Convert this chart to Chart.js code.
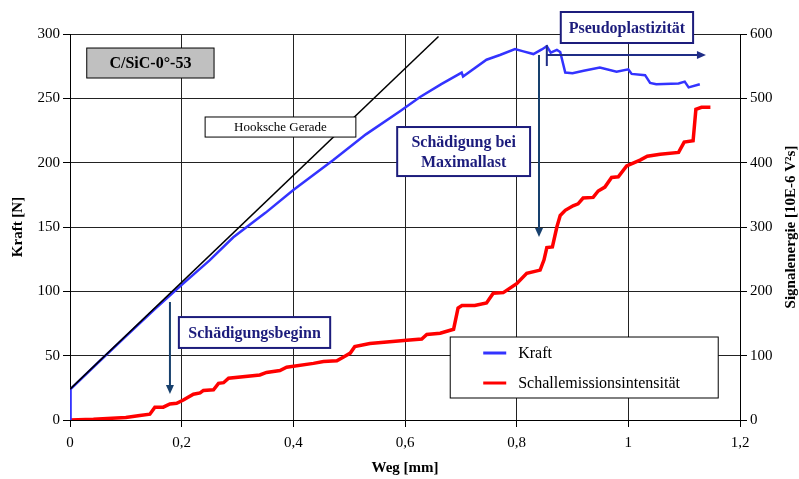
<!DOCTYPE html>
<html>
<head>
<meta charset="utf-8">
<script src="https://cdn.jsdelivr.net/npm/chart.js@4.4.1/dist/chart.umd.min.js"></script>
<style>
    body { margin: 0; background: #fff; }
    #wrap { width: 799px; height: 479px; }
</style>
</head>
<body>
<div id="wrap"><canvas id="kraft_chart" width="799" height="479"></canvas></div>
<script>
// Kraft-Weg curve (left axis, N)
const wegKraft = [0, 0.001, 0.05, 0.1, 0.15, 0.2, 0.25, 0.2925, 0.35, 0.40, 0.4716, 0.53, 0.591, 0.627, 0.665,
    0.7015, 0.704, 0.746, 0.770, 0.797, 0.812, 0.83, 0.845, 0.854, 0.861, 0.872, 0.878, 0.887, 0.9, 0.92,
    0.949, 0.979, 1.0, 1.006, 1.03, 1.039, 1.05, 1.09, 1.101, 1.108, 1.128];
const kraft = [0, 24, 44.5, 65, 85.5, 105, 124, 142, 161, 178.7, 202, 222, 240, 251, 261,
    270, 267, 280, 283.7, 288.3, 286.5, 284.4, 288, 290.5, 285.5, 287.6, 286, 270, 269.5, 271.5,
    274, 270.7, 272.5, 269, 268, 262, 261, 261.5, 263, 258.5, 261];

// Schallemissionsintensität (right axis, 10E-6 V²s)
const wegSchall = [0, 0.042, 0.10, 0.125, 0.143, 0.152, 0.167, 0.179, 0.191, 0.203, 0.221, 0.233, 0.239, 0.257,
    0.266, 0.275, 0.284, 0.34, 0.352, 0.376, 0.388, 0.436, 0.454, 0.478, 0.49, 0.502, 0.51, 0.537, 0.603,
    0.63, 0.639, 0.663, 0.687, 0.695, 0.702, 0.725, 0.746, 0.758, 0.776, 0.80, 0.818, 0.842, 0.849, 0.854,
    0.864, 0.872, 0.878, 0.887, 0.901, 0.91, 0.919, 0.937, 0.946, 0.958, 0.970, 0.982, 0.997, 1.021, 1.034,
    1.057, 1.09, 1.10, 1.116, 1.121, 1.131, 1.147];
const schall = [0, 1, 4, 7, 9, 20, 20, 25, 26, 31, 40, 42, 46, 47,
    57, 58, 65, 70, 74, 77, 82, 88, 91, 92, 98, 104, 114, 119, 124,
    126, 133, 135, 141, 174, 178, 178, 182, 197, 198, 212, 228, 233, 249, 268,
    269, 300, 318, 326, 333, 336, 345, 346, 356, 362, 377, 378, 395, 404, 410,
    413, 416, 432, 434, 483, 486, 486];

// Hookesche Gerade (two end points)
const wegHooke = [0, 0.66];
const hooke = [24, 298];

const xTicks = { min: 0, max: 1.2, step: 0.2 };
const yTicks = { min: 0, max: 300, step: 50 };
const y2Ticks = { min: 0, max: 600, step: 100 };

const serif = "'Liberation Serif', 'DejaVu Serif', serif";
const navy = "#1c1c7c";

function toPoints(xs, ys) {
    return xs.map((x, i) => ({ x: x, y: ys[i] }));
}

function commaLabel(v) {
    return String(Math.round(v * 10) / 10).replace(".", ",");
}

function drawBox(ctx, x1, y1, x2, y2, fill, stroke, lw) {
    ctx.save();
    ctx.fillStyle = fill;
    ctx.fillRect(x1, y1, x2 - x1, y2 - y1);
    ctx.strokeStyle = stroke;
    ctx.lineWidth = lw;
    ctx.strokeRect(x1, y1, x2 - x1, y2 - y1);
    ctx.restore();
}

function drawText(ctx, lines, cx, cy, font, color) {
    ctx.save();
    ctx.font = font;
    ctx.fillStyle = color;
    ctx.textAlign = "center";
    ctx.textBaseline = "middle";
    const lh = 20;
    lines.forEach((t, i) => {
        ctx.fillText(t, cx, cy + (i - (lines.length - 1) / 2) * lh);
    });
    ctx.restore();
}

function drawArrow(ctx, x1, y1, x2, y2, color) {
    const ang = Math.atan2(y2 - y1, x2 - x1);
    ctx.save();
    ctx.strokeStyle = color;
    ctx.fillStyle = color;
    ctx.lineWidth = 2;
    ctx.beginPath();
    ctx.moveTo(x1, y1);
    ctx.lineTo(x2 - 6 * Math.cos(ang), y2 - 6 * Math.sin(ang));
    ctx.stroke();
    ctx.beginPath();
    ctx.moveTo(x2, y2);
    ctx.lineTo(x2 - 9 * Math.cos(ang) + 4 * Math.sin(ang), y2 - 9 * Math.sin(ang) - 4 * Math.cos(ang));
    ctx.lineTo(x2 - 9 * Math.cos(ang) - 4 * Math.sin(ang), y2 - 9 * Math.sin(ang) + 4 * Math.cos(ang));
    ctx.closePath();
    ctx.fill();
    ctx.restore();
}

// Boxes, arrows, legend and axis titles
const annotations = {
    id: "annotations",
    afterDatasetsDraw(chart) {
        const ctx = chart.ctx;
        const xs = chart.scales.x, ys = chart.scales.y;
        const px = v => xs.getPixelForValue(v);
        const py = v => ys.getPixelForValue(v);

        // sample name
        drawBox(ctx, px(0.030), py(289.1), px(0.258), py(265.8), "#c0c0c0", "#000", 1);
        drawText(ctx, ["C/SiC-0°-53"], (px(0.030) + px(0.258)) / 2, (py(289.1) + py(265.8)) / 2 + 1, "bold 16px " + serif, "#000");

        // Hooksche Gerade
        drawBox(ctx, px(0.242), py(235.5), px(0.512), py(219.9), "#fff", "#000", 1);
        drawText(ctx, ["Hooksche Gerade"], (px(0.242) + px(0.512)) / 2, (py(235.5) + py(219.9)) / 2 + 1, "13px " + serif, "#000");

        // arrows
        drawArrow(ctx, px(0.179), py(91.7), px(0.179), py(20.2), "#17406d");
        drawArrow(ctx, px(0.840), py(283.7), px(0.840), py(142.2), "#17406d");
        drawArrow(ctx, px(0.854), py(283.7), px(1.139), py(283.7), "#1f2d86");
        ctx.save();
        ctx.strokeStyle = "#1f2d86";
        ctx.lineWidth = 2;
        ctx.beginPath();
        ctx.moveTo(px(0.854), py(291.4));
        ctx.lineTo(px(0.854), py(275.1));
        ctx.stroke();
        ctx.restore();

        // blue framed labels
        drawBox(ctx, px(0.586), py(227.7), px(0.824), py(189.6), "#fff", navy, 2);
        drawText(ctx, ["Schädigung bei", "Maximallast"], (px(0.586) + px(0.824)) / 2, (py(227.7) + py(189.6)) / 2 + 1, "bold 16px " + serif, navy);
        drawBox(ctx, px(0.879), py(317.1), px(1.116), py(293.0), "#fff", navy, 2);
        drawText(ctx, ["Pseudoplastizität"], (px(0.879) + px(1.116)) / 2, (py(317.1) + py(293.0)) / 2 + 1, "bold 16px " + serif, navy);
        drawBox(ctx, px(0.195), py(80.0), px(0.466), py(56.0), "#fff", navy, 2);
        drawText(ctx, ["Schädigungsbeginn"], (px(0.195) + px(0.466)) / 2, (py(80.0) + py(56.0)) / 2 + 1, "bold 16px " + serif, navy);

        // legend
        const lx1 = px(0.681), lx2 = px(1.161), ly1 = py(64.5), ly2 = py(17.1);
        drawBox(ctx, lx1, ly1, lx2, ly2, "#fff", "#000", 1);
        chart.data.datasets.filter(d => d.label).forEach((d, i) => {
            const yy = ly1 + 16 + i * 30;
            ctx.save();
            ctx.strokeStyle = d.borderColor;
            ctx.lineWidth = 3;
            ctx.beginPath();
            ctx.moveTo(lx1 + 33, yy);
            ctx.lineTo(lx1 + 56, yy);
            ctx.stroke();
            ctx.font = "16px " + serif;
            ctx.fillStyle = "#000";
            ctx.textBaseline = "middle";
            ctx.fillText(d.label, lx1 + 68, yy + 1);
            ctx.restore();
        });

        // axis titles
        const ca = chart.chartArea;
        const midY = (ca.top + ca.bottom) / 2;
        ctx.save();
        ctx.font = "bold 15px " + serif;
        ctx.fillStyle = "#000";
        ctx.textAlign = "center";
        ctx.textBaseline = "middle";
        ctx.fillText("Weg [mm]", (ca.left + ca.right) / 2, ca.bottom + 48);
        ctx.translate(18, midY);
        ctx.rotate(-Math.PI / 2);
        ctx.fillText("Kraft [N]", 0, 0);
        ctx.restore();
        ctx.save();
        ctx.font = "bold 15px " + serif;
        ctx.fillStyle = "#000";
        ctx.textAlign = "center";
        ctx.textBaseline = "middle";
        ctx.translate(ca.right + 51, midY);
        ctx.rotate(-Math.PI / 2);
        ctx.fillText("Signalenergie [10E-6 V²s]", 0, 0);
        ctx.restore();
    }
};

const ctx = document.getElementById("kraft_chart").getContext("2d");
const kraft_chart = new Chart(ctx, {
    type: "line",
    data: {
        datasets: [
            {
                label: "",
                data: toPoints(wegHooke, hooke),
                borderColor: "#000",
                borderWidth: 1.5,
                pointRadius: 0,
                yAxisID: "y",
                order: 0
            },
            {
                label: "Kraft",
                data: toPoints(wegKraft, kraft),
                borderColor: "#3333ff",
                borderWidth: 2.5,
                pointRadius: 0,
                yAxisID: "y",
                order: 1
            },
            {
                label: "Schallemissionsintensität",
                data: toPoints(wegSchall, schall),
                borderColor: "#ff0000",
                borderWidth: 3.5,
                pointRadius: 0,
                yAxisID: "y2",
                order: 2
            }
        ]
    },
    options: {
        responsive: false,
        animation: false,
        devicePixelRatio: 1,
        layout: { padding: { top: 34, left: 0, right: 0, bottom: 0 } },
        plugins: { legend: { display: false }, tooltip: { enabled: false } },
        scales: {
            x: {
                type: "linear",
                min: xTicks.min,
                max: xTicks.max,
                afterFit: s => { s.height = 59; },
                ticks: {
                    stepSize: xTicks.step,
                    color: "#000",
                    font: { family: serif, size: 15 },
                    padding: 7,
                    maxRotation: 0,
                    callback: v => commaLabel(v)
                },
                grid: { color: "#222", lineWidth: 1, tickLength: 7, tickColor: "#000" },
                border: { color: "#000", width: 1 }
            },
            y: {
                position: "left",
                min: yTicks.min,
                max: yTicks.max,
                afterFit: s => { s.width = 70; },
                ticks: { stepSize: yTicks.step, color: "#000", font: { family: serif, size: 15 }, padding: 3 },
                grid: { color: "#222", lineWidth: 1, tickLength: 7, tickColor: "#000" },
                border: { color: "#000", width: 1 }
            },
            y2: {
                position: "right",
                min: y2Ticks.min,
                max: y2Ticks.max,
                afterFit: s => { s.width = 59; },
                ticks: { stepSize: y2Ticks.step, color: "#000", font: { family: serif, size: 15 }, padding: 3 },
                grid: { drawOnChartArea: false, tickLength: 7, tickColor: "#000" },
                border: { color: "#000", width: 1 }
            }
        }
    },
    plugins: [annotations]
});
</script>
</body>
</html>
